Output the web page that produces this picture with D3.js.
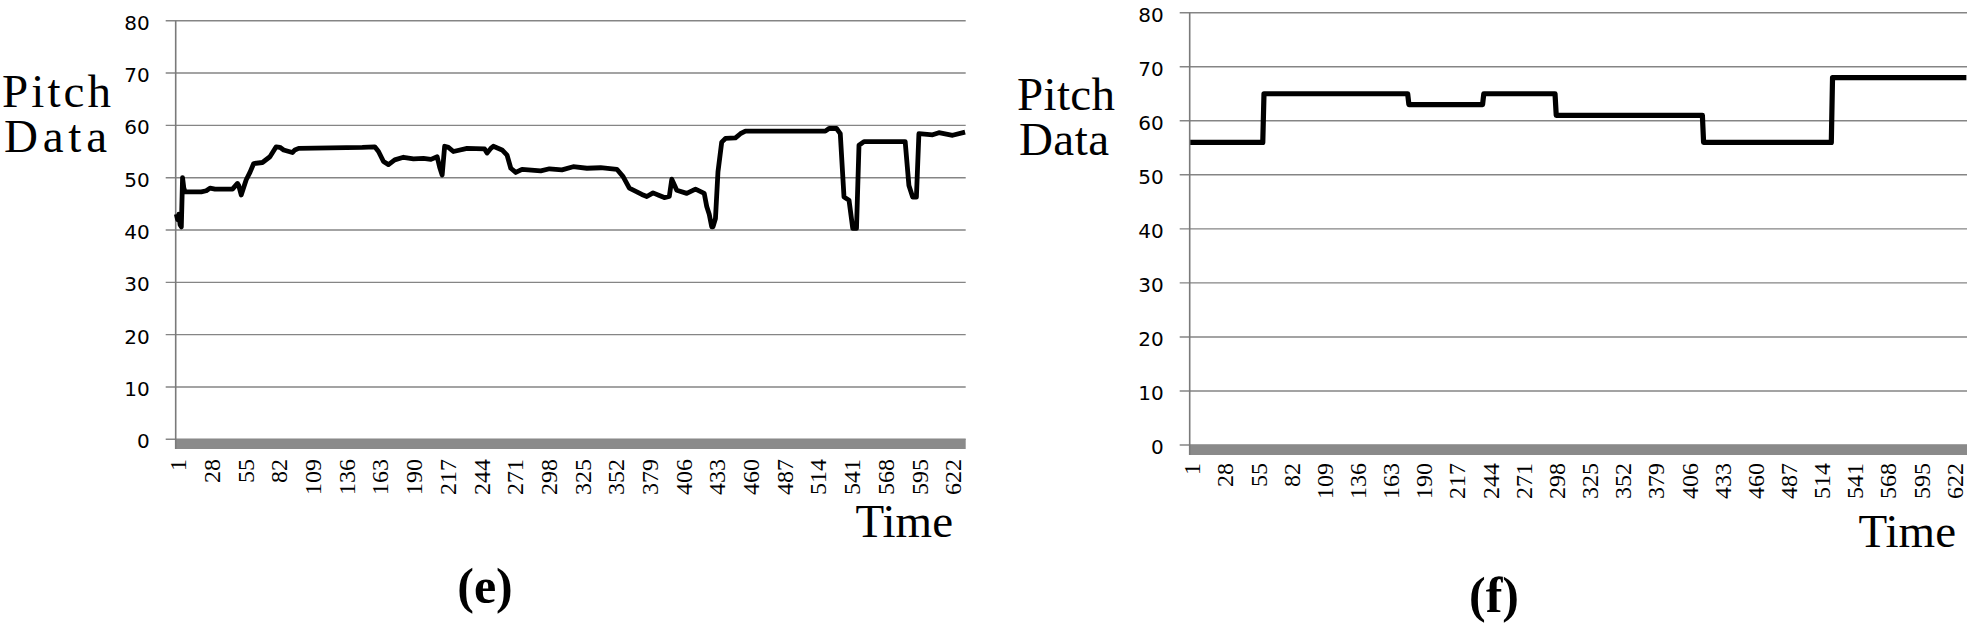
<!DOCTYPE html>
<html>
<head>
<meta charset="utf-8">
<script src="https://cdn.jsdelivr.net/npm/d3@7"></script>
<style>
  body { margin: 0; background: #fff; }
  svg { display: block; }
</style>
</head>
<body>
<svg id="chart" width="1968" height="623"></svg>
<script>
'use strict';

// number of time samples on each category axis
let nbSamples = 633;

// category labels shown under each plot
let timeLabels = [1, 28, 55, 82, 109, 136, 163, 190, 217, 244, 271, 298, 325, 352,
    379, 406, 433, 460, 487, 514, 541, 568, 595, 622];
let pitchTicks = [0, 10, 20, 30, 40, 50, 60, 70, 80];

let eTime = [1, 2, 3, 4, 5, 6, 7, 8, 21, 25, 28, 32, 46, 50, 51, 53, 57, 60, 63, 70,
    76, 81, 84, 87, 94, 96, 99, 150, 160, 163, 167, 171, 176, 183, 191, 199, 205,
    210, 212, 214, 216, 219, 223, 234, 248, 250, 253, 255, 262, 266, 269, 273, 278,
    293, 300, 310, 319, 330, 341, 354, 359, 364, 370, 374, 378, 383, 388, 392, 396,
    398, 402, 410, 417, 424, 426, 428, 430, 431, 433, 435, 438, 441, 449, 453, 457,
    521, 524, 530, 533, 536, 540, 543, 546, 548, 552, 585, 588, 591, 594, 596, 607,
    612, 623, 633];
let ePitch = [43, 42, 43, 41, 40.6, 50, 48, 47.3, 47.3, 47.5, 48, 47.8, 47.8, 48.9,
    48.5, 46.7, 49.6, 51, 52.7, 52.9, 54, 55.9, 55.8, 55.3, 54.8, 55.3, 55.6, 55.8,
    55.9, 55, 53.1, 52.5, 53.4, 53.9, 53.6, 53.7, 53.5, 54, 52, 50.5, 56, 55.8, 55,
    55.6, 55.5, 54.7, 55.6, 56, 55.3, 54.3, 51.8, 51, 51.6, 51.3, 51.7, 51.5, 52.1,
    51.8, 51.9, 51.6, 50.2, 48, 47.3, 46.8, 46.4, 47.1, 46.6, 46.2, 46.4, 49.7, 47.6,
    47, 47.8, 47, 44.5, 43, 40.6, 40.6, 42.2, 51.1, 56.8, 57.5, 57.6, 58.4, 58.9,
    58.9, 59.4, 59.4, 58.4, 46.3, 45.7, 40.3, 40.3, 56.2, 56.9, 56.9, 48.5, 46.3,
    46.3, 58.4, 58.2, 58.6, 58.1, 58.7];

// (f) quantised pitch, a step line
let fTime = [1, 60, 61, 178, 179, 239, 240, 298, 299, 418, 419, 523, 524, 633];
let fPitch = [56, 56, 65, 65, 63, 63, 65, 65, 61, 61, 56, 56, 68, 68];

let svg = d3.select('#chart');

function drawPanel(p) {
    let g = svg.append('g');
    let x = d3.scaleLinear()
        .domain([0.5, nbSamples + 0.5])
        .range([p.left, p.right]);
    let y = d3.scaleLinear()
        .domain([0, 80])
        .range([p.bottom, p.top]);

    // gridlines, with the little tick stub left of the axis
    g.selectAll('line.grid')
        .data(pitchTicks)
        .enter().append('line')
        .attr('x1', p.left - 10)
        .attr('x2', p.right)
        .attr('y1', d => y(d))
        .attr('y2', d => y(d))
        .attr('stroke', '#858585')
        .attr('stroke-width', 1.4);

    // grey floor under the plot
    g.append('rect')
        .attr('x', p.left)
        .attr('y', y(0))
        .attr('width', p.right - p.left)
        .attr('height', p.floor)
        .attr('fill', '#8a8a8a');

    g.append('line')
        .attr('x1', p.left)
        .attr('x2', p.left)
        .attr('y1', y(80))
        .attr('y2', y(0) + p.floor)
        .attr('stroke', '#7a7a7a')
        .attr('stroke-width', 1.6);

    g.selectAll('text.ytick')
        .data(pitchTicks)
        .enter().append('text')
        .attr('x', p.left - 26)
        .attr('y', d => y(d) + 2)
        .attr('dy', '0.35em')
        .attr('text-anchor', 'end')
        .attr('style', 'font-family: "DejaVu Sans", sans-serif; font-size: 20px;')
        .text(d => d);

    g.selectAll('text.xtick')
        .data(timeLabels)
        .enter().append('text')
        .attr('transform', d => 'translate(' + (x(d) + 1.5) + ',' + p.labelTop + ') rotate(-90)')
        .attr('dy', '0.35em')
        .attr('text-anchor', 'end')
        .attr('style', 'font-family: "Liberation Serif", serif; font-size: 24px;')
        .text(d => d);

    let line = d3.line()
        .x(d => x(d[0]))
        .y(d => y(d[1]));
    g.append('path')
        .datum(p.times.map((t, i) => [t, p.values[i]]))
        .attr('d', line)
        .attr('fill', 'none')
        .attr('stroke', '#000')
        .attr('stroke-width', p.lineWidth)
        .attr('stroke-linejoin', 'round');

    let serif = 'font-family: "Liberation Serif", serif; font-size: 47px;';
    g.append('text')
        .attr('x', p.labelX)
        .attr('y', p.pitchY)
        .attr('textLength', p.pitchW)
        .attr('style', serif)
        .text('Pitch');
    g.append('text')
        .attr('x', p.labelX + 2)
        .attr('y', p.pitchY + 45)
        .attr('textLength', p.dataW)
        .attr('style', serif)
        .text('Data');
    g.append('text')
        .attr('x', p.timeX)
        .attr('y', p.timeY)
        .attr('text-anchor', 'end')
        .attr('style', serif)
        .text('Time');
    g.append('text')
        .attr('x', p.captionX)
        .attr('y', p.captionY)
        .attr('text-anchor', 'middle')
        .attr('style', 'font-family: "Liberation Serif", serif; font-size: 50px; font-weight: bold;')
        .text(p.caption);
}

drawPanel({
    left: 175.7, right: 965.7, top: 20.7, bottom: 439.3, floor: 9.7,
    labelTop: 459, times: eTime, values: ePitch, lineWidth: 4.8,
    labelX: 2, pitchY: 106.7, pitchW: 109, dataW: 103,
    timeX: 953, timeY: 537, caption: '(e)', captionX: 485, captionY: 603
});

drawPanel({
    left: 1189.7, right: 1967, top: 12.7, bottom: 445, floor: 10,
    labelTop: 463, times: fTime, values: fPitch, lineWidth: 5.2,
    labelX: 1017, pitchY: 110, pitchW: 98, dataW: 90,
    timeX: 1956, timeY: 546.7, caption: '(f)', captionX: 1494, captionY: 611.7
});
</script>
</body>
</html>
